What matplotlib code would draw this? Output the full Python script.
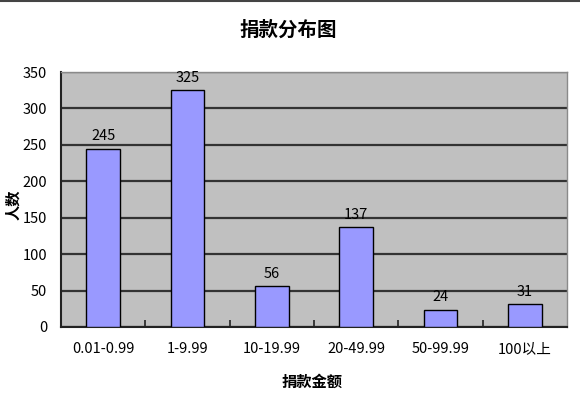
import matplotlib
matplotlib.use("Agg")
import matplotlib.pyplot as plt
from matplotlib.ticker import FixedLocator

plt.rcParams['font.family'] = ['Noto Sans CJK SC', 'DejaVu Sans']

categories = ['0.01-0.99', '1-9.99', '10-19.99', '20-49.99', '50-99.99', '100以上']
values = [245, 325, 56, 137, 24, 31]
yticks = [0, 50, 100, 150, 200, 250, 300, 350]
title = '捐款分布图'
xlabel = '捐款金额'
ylabel = '人数'

fig = plt.figure(figsize=(5.8, 4.0), dpi=100)
ax = fig.add_axes([61/580, 1-327/400, (567-61)/580, (327-72)/400])
ax.set_facecolor('#c0c0c0')

x = list(range(len(categories)))
bars = ax.bar(x, values, width=0.4, color='#9999ff', edgecolor='#000000', linewidth=1.0, zorder=3)
for xi, v in zip(x, values):
    ax.annotate(str(v), (xi, v), xytext=(0, 4), textcoords='offset points',
                ha='center', va='bottom', fontsize=10.5, color='#000000', zorder=4)

ax.set_xlim(-0.5, len(categories) - 0.5)
ax.set_ylim(0, 350)
ax.set_yticks(yticks)
ax.set_yticklabels([str(t) for t in yticks], fontsize=10.5)
ax.yaxis.grid(True, color='#333333', linewidth=1.6, zorder=1)
ax.set_axisbelow(True)

ax.set_xticks(x)
ax.set_xticklabels(categories, fontsize=10.5)
ax.tick_params(axis='x', which='major', length=0, pad=11)
ax.xaxis.set_minor_locator(FixedLocator([i + 0.5 for i in range(len(categories) - 1)]))
ax.tick_params(axis='x', which='minor', direction='in', length=5, width=1.2, color='#222222')
ax.tick_params(axis='y', which='major', length=0, pad=10)

for s in ['left', 'bottom']:
    ax.spines[s].set_color('#222222')
    ax.spines[s].set_linewidth(1.5)
for s in ['top', 'right']:
    ax.spines[s].set_color('#8a8a8a')
    ax.spines[s].set_linewidth(1.0)

fig.text(288/580, 1-30/400, title, ha='center', va='center', fontsize=14, fontweight='bold')
fig.text(312/580, 1-382/400, xlabel, ha='center', va='center', fontsize=11, fontweight='bold')
fig.text(13/580, 1-205/400, ylabel, ha='center', va='center', fontsize=11, fontweight='bold', rotation=90)

fig.add_artist(plt.Line2D([0, 1], [1-1/400, 1-1/400], color='#444444', linewidth=1.5, transform=fig.transFigure))

fig.savefig('out.png', dpi=100, facecolor='white')
